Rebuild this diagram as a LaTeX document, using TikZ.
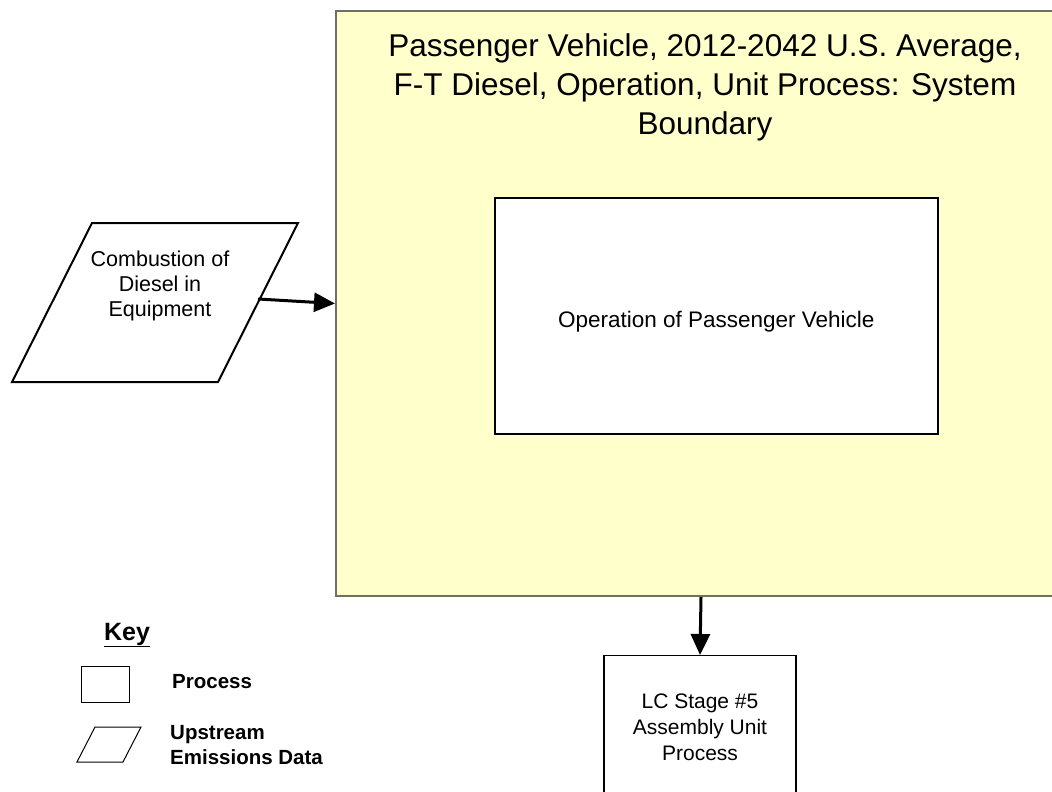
\documentclass[tikz,border=0pt]{standalone}
\usepackage{fontspec}
\setmainfont{Liberation Sans}
\usetikzlibrary{arrows.meta}
\definecolor{sysyellow}{RGB}{255,255,204}
\definecolor{sysborder}{RGB}{110,110,110}
\begin{document}
\begin{tikzpicture}[x=1pt,y=-1pt,
  sysbox/.style={draw=sysborder, line width=2pt, fill=sysyellow, rectangle, inner sep=0pt},
  procbox/.style={draw=black, line width=1.5pt, fill=white, rectangle, inner sep=0pt},
  lbl/.style={align=center, inner sep=0pt},
  conn/.style={-{Triangle[length=21pt,width=19pt]}, line width=3pt},
  keyshape/.style={draw=black, line width=1pt}
]
\useasboundingbox (0,0) rectangle (1052,792);
\clip (0,0) rectangle (1052,792);
\fill[white] (0,0) rectangle (1052,792);

% system boundary
\node[sysbox, minimum width=730pt, minimum height=585pt, anchor=north west] (sys) at (335,10) {};
\node[lbl, font=\fontsize{31.5}{39}\selectfont] (title) at (705,87)
  {Passenger Vehicle, 2012-2042 U.S. Average,\\F-T Diesel, Operation, Unit Process: System\\Boundary};

% inner process
\node[procbox, minimum width=443pt, minimum height=236pt, anchor=north west] (op) at (494,197) {};
\node[lbl, font=\fontsize{22.5}{27}\selectfont] (optext) at ([yshift=-6pt]op.center) {Operation of Passenger Vehicle};

% upstream parallelogram
\coordinate (pa) at (92,223);
\coordinate (pb) at (298,223);
\coordinate (pc) at (218,382);
\coordinate (pd) at (12,382);
\draw[line width=2pt, fill=white] (pa) -- (pb) -- (pc) -- (pd) -- cycle;
\node[lbl, font=\fontsize{21.5}{25}\selectfont] (comb) at (160,286) {Combustion of\\Diesel in\\Equipment};
\coordinate (combout) at (258,299);
\draw[conn] (combout) -- (sys.west);

% LC stage
\node[procbox, line width=1.2pt, minimum width=192pt, minimum height=170pt, anchor=north] (lc) at (700,655) {};
\node[lbl, font=\fontsize{21}{26}\selectfont] (lctext) at (700,727) {LC Stage \#5\\Assembly Unit\\Process};
\draw[conn] (sys.south) -- (lc.north);

% key
\node[lbl, font=\bfseries\fontsize{25}{30}\selectfont] (key) at (127,635) {\underline{Key}};
\node[keyshape, minimum width=48pt, minimum height=36pt, anchor=north west, inner sep=0pt] (keyproc) at (81,666) {};
\node[lbl, anchor=west, font=\bfseries\fontsize{20.5}{25}\selectfont] (keyproclbl) at (172,682) {Process};
\coordinate (ka) at (95,727);
\coordinate (kb) at (141,727);
\coordinate (kc) at (123,762);
\coordinate (kd) at (77,762);
\draw[keyshape] (ka) -- (kb) -- (kc) -- (kd) -- cycle;
\node[lbl, align=left, anchor=west, font=\bfseries\fontsize{20.5}{25}\selectfont] (keyuplbl) at (170,745) {Upstream\\Emissions Data};
\end{tikzpicture}
\end{document}
